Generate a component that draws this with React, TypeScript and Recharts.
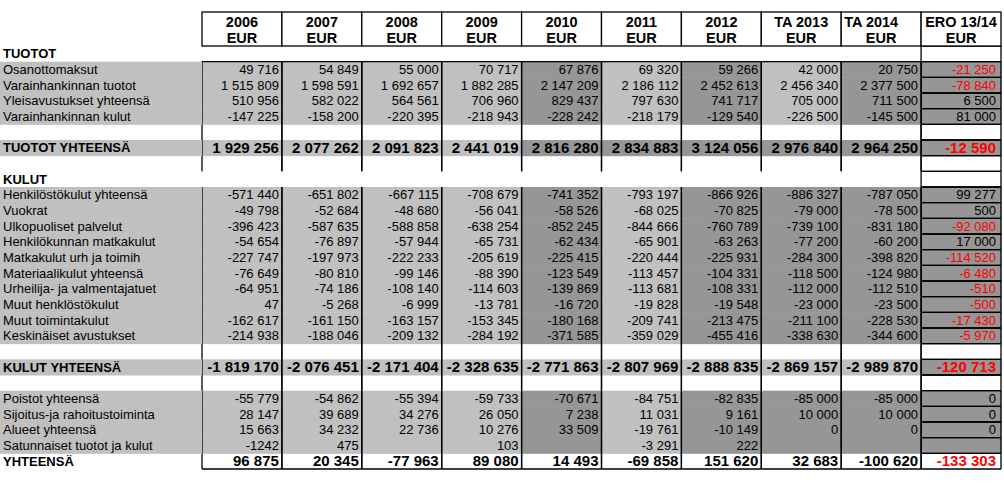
import { ScatterChart, Scatter, XAxis, YAxis } from 'recharts'

const columns = ['2006', '2007', '2008', '2009', '2010', '2011', '2012', 'TA 2013', 'TA 2014', 'ERO 13/14']

// TUOTOT
const osanottomaksut = [49716, 54849, 55000, 70717, 67876, 69320, 59266, 42000, 20750, -21250]
const varainhankinnanTuotot = [1515809, 1598591, 1692657, 1882285, 2147209, 2186112, 2452613, 2456340, 2377500, -78840]
const yleisavustukset = [510956, 582022, 564561, 706960, 829437, 797630, 741717, 705000, 711500, 6500]
const varainhankinnanKulut = [-147225, -158200, -220395, -218943, -228242, -218179, -129540, -226500, -145500, 81000]
const tuototYhteensa = [1929256, 2077262, 2091823, 2441019, 2816280, 2834883, 3124056, 2976840, 2964250, -12590]

// KULUT
const henkilostokulut = [-571440, -651802, -667115, -708679, -741352, -793197, -866926, -886327, -787050, 99277]
const vuokrat = [-49798, -52684, -48680, -56041, -58526, -68025, -70825, -79000, -78500, 500]
const ulkopuoliset = [-396423, -587635, -588858, -638254, -852245, -844666, -760789, -739100, -831180, -92080]
const henkilokunnanMatkat = [-54654, -76897, -57944, -65731, -62434, -65901, -63263, -77200, -60200, 17000]
const matkakulutUrh = [-227747, -197973, -222233, -205619, -225415, -220444, -225931, -284300, -398820, -114520]
const materiaalikulut = [-76649, -80810, -99146, -88390, -123549, -113457, -104331, -118500, -124980, -6480]
const urheilijatuet = [-64951, -74186, -108140, -114603, -139869, -113681, -108331, -112000, -112510, -510]
const muutHenkilosto = [47, -5268, -6999, -13781, -16720, -19828, -19548, -23000, -23500, -500]
const muutToiminta = [-162617, -161150, -163157, -153345, -180168, -209741, -213475, -211100, -228530, -17430]
const keskinaiset = [-214938, -188046, -209132, -284192, -371585, -359029, -455416, -338630, -344600, -5970]
const kulutYhteensa = [-1819170, -2076451, -2171404, -2328635, -2771863, -2807969, -2888835, -2869157, -2989870, -120713]

// muut
const poistot = [-55779, -54862, -55394, -59733, -70671, -84751, -82835, -85000, -85000, 0]
const sijoitus = [28147, 39689, 34276, 26050, 7238, 11031, 9161, 10000, 10000, 0]
const alueet = [15663, 34232, 22736, 10276, 33509, -19761, -10149, 0, 0, 0]
const satunnaiset: (number | string | null)[] = ['-1242', 475, null, 103, null, -3291, 222, null, null, null]
const yhteensa = [96875, 20345, -77963, 89080, 14493, -69858, 151620, 32683, -100620, -133303]

type Row = { label: string; kind: string; group?: string; values?: (number | string | null)[] }

const rows: Row[] = [
  { label: 'TUOTOT', kind: 'section' },
  { label: 'Osanottomaksut', kind: 'data', group: 'tuotot', values: osanottomaksut },
  { label: 'Varainhankinnan tuotot', kind: 'data', group: 'tuotot', values: varainhankinnanTuotot },
  { label: 'Yleisavustukset yhteensä', kind: 'data', group: 'tuotot', values: yleisavustukset },
  { label: 'Varainhankinnan kulut', kind: 'data', group: 'tuotot', values: varainhankinnanKulut },
  { label: '', kind: 'blank' },
  { label: 'TUOTOT YHTEENSÄ', kind: 'total', group: 'tuototTotal', values: tuototYhteensa },
  { label: '', kind: 'blank' },
  { label: 'KULUT', kind: 'section' },
  { label: 'Henkilöstökulut yhteensä', kind: 'data', group: 'kulut', values: henkilostokulut },
  { label: 'Vuokrat', kind: 'data', group: 'kulut', values: vuokrat },
  { label: 'Ulkopuoliset palvelut', kind: 'data', group: 'kulut', values: ulkopuoliset },
  { label: 'Henkilökunnan matkakulut', kind: 'data', group: 'kulut', values: henkilokunnanMatkat },
  { label: 'Matkakulut urh ja toimih', kind: 'data', group: 'kulut', values: matkakulutUrh },
  { label: 'Materiaalikulut yhteensä', kind: 'data', group: 'kulut', values: materiaalikulut },
  { label: 'Urheilija- ja valmentajatuet', kind: 'data', group: 'kulut', values: urheilijatuet },
  { label: 'Muut henklöstökulut', kind: 'data', group: 'kulut', values: muutHenkilosto },
  { label: 'Muut toimintakulut', kind: 'data', group: 'kulut', values: muutToiminta },
  { label: 'Keskinäiset avustukset', kind: 'data', group: 'kulut', values: keskinaiset },
  { label: '', kind: 'blank' },
  { label: 'KULUT YHTEENSÄ', kind: 'total', group: 'kulutTotal', values: kulutYhteensa },
  { label: '', kind: 'blank' },
  { label: 'Poistot yhteensä', kind: 'data', group: 'kulut', values: poistot },
  { label: 'Sijoitus-ja rahoitustoiminta', kind: 'data', group: 'kulut', values: sijoitus },
  { label: 'Alueet yhteensä', kind: 'data', group: 'kulut', values: alueet },
  { label: 'Satunnaiset tuotot ja kulut', kind: 'data', group: 'kulut', values: satunnaiset },
  { label: 'YHTEENSÄ', kind: 'final', values: yhteensa },
]

// which columns are shaded darker in each block
const DARK_COLS: Record<string, string[]> = {
  tuotot: ['2010', '2012', 'TA 2014', 'ERO 13/14'],
  tuototTotal: ['2010', '2011', '2012', 'TA 2013', 'TA 2014', 'ERO 13/14'],
  kulut: ['2010', '2012', 'TA 2013', 'TA 2014', 'ERO 13/14'],
  kulutTotal: ['ERO 13/14'],
}

const FONT = '"Liberation Sans", Arial, Helvetica, sans-serif'
const LIGHT = '#c0c0c0'
const DARK = '#969696'
const RED = '#ff0000'

const W = 1004
const H = 497
const LEFT = 202
const RIGHT = 1001
const HEAD_TOP = 12
const TOP = 46
const BOTTOM = 469
const COL_W = (RIGHT - LEFT) / columns.length
const ROW_H = (BOTTOM - TOP) / rows.length
const ERO = columns[columns.length - 1]

const points = rows.flatMap((row, r) =>
  columns.map((col, c) => ({ col, r, c, value: row.values ? row.values[c] : null }))
)

function fmt(v: number | string | null | undefined) {
  if (v === null || v === undefined) return ''
  if (typeof v === 'string') return v
  const s = Math.abs(v).toString().replace(/\B(?=(\d{3})+(?!\d))/g, ' ')
  return v < 0 ? '-' + s : s
}

function cellFill(row: Row, col: string) {
  if (row.kind !== 'data' && row.kind !== 'total') return null
  return (DARK_COLS[row.group || ''] || []).includes(col) ? DARK : LIGHT
}

function CellBg(props: any) {
  const { cx, cy } = props
  const p = props.payload ?? props
  const fill = cellFill(rows[p.r], p.col)
  if (!fill) return <g />
  return <rect x={cx - COL_W / 2} y={cy - ROW_H / 2} width={COL_W + 0.5} height={ROW_H + 0.5} fill={fill} />
}

function CellFront(props: any) {
  const { cx, cy } = props
  const p = props.payload ?? props
  const row = rows[p.r]
  const x0 = cx - COL_W / 2
  const x1 = cx + COL_W / 2
  const y0 = cy - ROW_H / 2
  const y1 = cy + ROW_H / 2
  const isEro = p.col === ERO
  const big = row.kind === 'total' || row.kind === 'final'
  const red = isEro && typeof p.value === 'number' && p.value < 0
  const stroke = { stroke: '#000', strokeWidth: 1.3 }
  return (
    <g>
      {(isEro || row.kind !== 'section') && <line x1={x0} x2={x0} y1={y0} y2={y1} {...stroke} />}
      {(isEro || row.kind !== 'section') && <line x1={x1} x2={x1} y1={y0} y2={y1} {...stroke} />}
      {(isEro || p.r === 1) && <line x1={x0} x2={x1} y1={y0} y2={y0} {...stroke} />}
      {(isEro || row.kind === 'final') && <line x1={x0} x2={x1} y1={y1} y2={y1} {...stroke} />}
      <text
        x={x1 - (isEro ? 5 : 3)}
        y={cy + (big ? 5.3 : 4.5)}
        textAnchor="end"
        fontFamily={FONT}
        fontSize={big ? 15 : 13}
        fontWeight={big ? 700 : 400}
        fill={red ? RED : '#000'}
      >
        {fmt(p.value)}
      </text>
    </g>
  )
}

function HeaderTick(props: any) {
  const { x, payload } = props
  const label = payload.value as string
  const x0 = x - COL_W / 2
  const leftAlign = label === 'TA 2014'
  return (
    <g>
      <rect x={x0} y={HEAD_TOP} width={COL_W} height={TOP - HEAD_TOP} fill="#fff" stroke="#000" strokeWidth={1.3} />
      <text
        x={leftAlign ? x0 + 3 : x}
        y={27}
        textAnchor={leftAlign ? 'start' : 'middle'}
        fontFamily={FONT}
        fontSize={14.5}
        fontWeight={700}
        fill="#000"
      >
        {label}
      </text>
      <text x={x} y={43} textAnchor="middle" fontFamily={FONT} fontSize={14.5} fontWeight={700} fill="#000">
        EUR
      </text>
    </g>
  )
}

function RowTick(props: any) {
  const { y, payload } = props
  const row = rows[Number(payload.value)]
  if (!row) return <g />
  const gray = row.kind === 'data' || row.kind === 'total'
  const bold = row.kind !== 'data'
  return (
    <g>
      {gray && <rect x={0} y={y - ROW_H / 2} width={LEFT} height={ROW_H + 0.5} fill={LIGHT} />}
      <text x={3} y={y + 4.5} fontFamily={FONT} fontSize={13} fontWeight={bold ? 700 : 400} fill="#000">
        {row.label}
      </text>
    </g>
  )
}

export default function App() {
  return (
    <div style={{ position: 'absolute', left: 0, top: 0, width: W, height: H, background: '#fff' }}>
      <ScatterChart width={W} height={H} margin={{ top: 0, right: W - RIGHT, bottom: H - BOTTOM, left: 0 }}>
        <XAxis
          type="category"
          dataKey="col"
          orientation="top"
          height={TOP}
          allowDuplicatedCategory={false}
          axisLine={false}
          tickLine={false}
          interval={0}
          tick={HeaderTick}
        />
        <YAxis
          type="category"
          dataKey="r"
          width={LEFT}
          reversed
          allowDuplicatedCategory={false}
          axisLine={false}
          tickLine={false}
          interval={0}
          tick={RowTick}
        />
        <Scatter data={points} shape={CellBg} isAnimationActive={false} />
        <Scatter data={points} shape={CellFront} isAnimationActive={false} />
      </ScatterChart>
    </div>
  )
}
